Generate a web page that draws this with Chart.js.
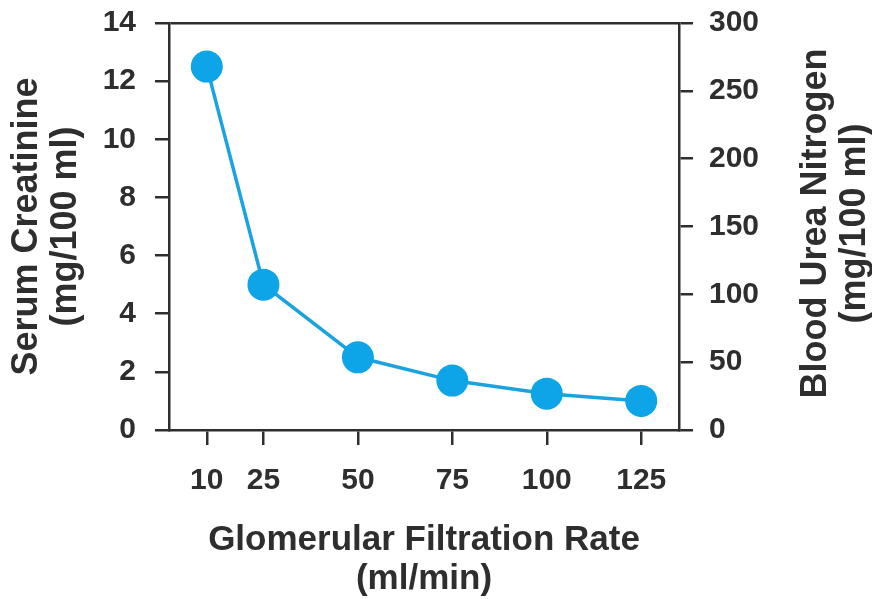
<!DOCTYPE html>
<html>
<head>
<meta charset="utf-8">
<script src="https://cdn.jsdelivr.net/npm/chart.js@4"></script>
<style>
  html, body { margin: 0; padding: 0; background: #fff; }
  #wrap { width: 872px; height: 599px; }
</style>
</head>
<body>
<div id="wrap"><canvas id="chart" width="872" height="599"></canvas></div>
<script>
const gfr = [10, 25, 50, 75, 100, 125];
const creatinine = [12.5, 5, 2.5, 1.7, 1.25, 1.0];
const xTicks = [10, 25, 50, 75, 100, 125];

const ink = '#2e2e2e';
const blue = '#0ea4e8';
const fontFamily = '"Liberation Sans", Arial, sans-serif';

// right axis title reads bottom-to-top, Chart.js rotates it the other way
const rightTitle = {
  id: 'rightTitle',
  afterDraw(chart) {
    const scale = chart.scales.bun;
    const ctx = chart.ctx;
    const mid = (scale.top + scale.bottom) / 2 - 3;
    ctx.save();
    ctx.fillStyle = ink;
    ctx.font = 'bold 36px ' + fontFamily;
    ctx.textAlign = 'center';
    ctx.textBaseline = 'middle';
    const lines = ['Blood Urea Nitrogen', '(mg/100 ml)'];
    lines.forEach((t, i) => {
      ctx.save();
      ctx.translate(scale.right - 56 + i * 39.5, mid);
      ctx.rotate(-Math.PI / 2);
      ctx.fillText(t, 0, 0);
      ctx.restore();
    });
    ctx.restore();
  }
};

// fixed axis sizes so the plot box sits where the original has it
function fixWidth(w) {
  return (scale) => {
    scale.width = w;
    scale.paddingTop = 10;
    scale.paddingBottom = 10;
  };
}

const data = {
  datasets: [{
    label: 'Serum Creatinine',
    data: gfr.map((g, i) => ({ x: g, y: creatinine[i] })),
    borderColor: '#1ba3e0',
    borderWidth: 3.5,
    backgroundColor: blue,
    pointBackgroundColor: blue,
    pointBorderColor: blue,
    pointRadius: 16,
    pointBorderWidth: 0,
    yAxisID: 'y'
  }]
};

const tickFont = { family: fontFamily, size: 30, weight: 'bold' };

const options = {
  responsive: false,
  animation: false,
  layout: { padding: { top: 23, left: 0, right: 0, bottom: 0 } },
  plugins: {
    legend: { display: false },
    tooltip: { enabled: false }
  },
  scales: {
    x: {
      type: 'linear',
      min: 0,
      max: 135,
      afterBuildTicks: (scale) => { scale.ticks = xTicks.map(v => ({ value: v })); },
      afterFit: (scale) => { scale.height = 169; },
      border: { display: true, color: ink, width: 2.5 },
      grid: { drawOnChartArea: false, tickLength: 15, color: ink, lineWidth: 2.5 },
      ticks: { color: ink, font: tickFont, padding: 18, maxRotation: 0 },
      title: {
        display: true,
        text: ['Glomerular Filtration Rate', '(ml/min)'],
        color: ink,
        font: { family: fontFamily, size: 35, weight: 'bold', lineHeight: 1.12 },
        padding: { top: 0, bottom: 0 }
      }
    },
    y: {
      position: 'left',
      min: 0,
      max: 14,
      afterFit: fixWidth(169),
      border: { display: true, color: ink, width: 2.5 },
      grid: {
        drawOnChartArea: true,
        tickLength: 14,
        lineWidth: 2.5,
        tickColor: ink,
        color: (c) => (c.tick && c.tick.value === 14 ? ink : 'rgba(0,0,0,0)')
      },
      ticks: { stepSize: 2, color: ink, font: tickFont, padding: 19 },
      title: {
        display: true,
        text: ['Serum Creatinine', '(mg/100 ml)'],
        color: ink,
        font: { family: fontFamily, size: 36, weight: 'bold', lineHeight: 1.1 },
        padding: { top: 7, bottom: 0 }
      }
    },
    bun: {
      position: 'right',
      min: 0,
      max: 300,
      afterFit: fixWidth(193),
      border: { display: true, color: ink, width: 2.5 },
      grid: { drawOnChartArea: false, tickLength: 14, color: ink, lineWidth: 2.5 },
      ticks: { stepSize: 50, color: ink, font: tickFont, padding: 16 }
    }
  }
};

const ctx = document.getElementById('chart');
const myChart = new Chart(ctx, { type: 'line', data: data, options: options, plugins: [rightTitle] });
</script>
</body>
</html>
